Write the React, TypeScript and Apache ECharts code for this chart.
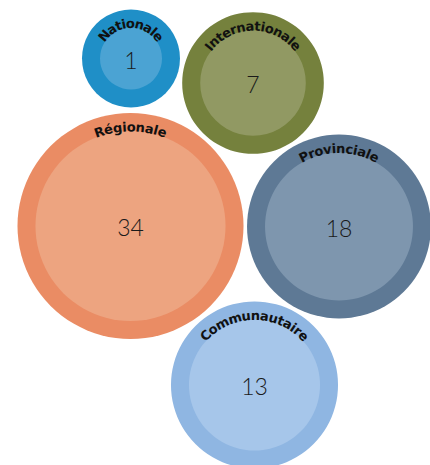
import React, { useEffect, useRef } from "react";
import * as echarts from "echarts";

// ---- data ----
const categories = ["Nationale", "Internationale", "Régionale", "Provinciale", "Communautaire"];
const values = [1, 7, 34, 18, 13];
// packed-bubble centres, in chart units (x to the right, y downward)
const bubbleX = [131, 253, 130.5, 339, 254.5];
const bubbleY = [58.5, 83, 226, 226.5, 385];

// ---- styles ----
const outerColors = ["#1f8fc7", "#75813d", "#ea8c64", "#5e7995", "#8fb6e2"];
const innerColors = ["#4ba3d3", "#919963", "#eda480", "#7e96ae", "#a6c6ea"];
const RING = 18;
const LABEL_FONT_SIZE = 13;
const LABEL_FONT = `bold ${LABEL_FONT_SIZE}px "DejaVu Sans", sans-serif`;
const LETTER_SPACING = 0.1;

// radius (chart units) grows with sqrt(value)
const radiusFor = (v: number) => 35.75 + 13.25 * Math.sqrt(v);

let measureCtx: CanvasRenderingContext2D | null = null;
function charWidth(ch: string): number {
  if (!measureCtx) {
    const c = document.createElement("canvas");
    measureCtx = c.getContext("2d");
  }
  if (!measureCtx) return LABEL_FONT_SIZE * 0.6;
  measureCtx.font = LABEL_FONT;
  return measureCtx.measureText(ch).width;
}

function arcLabel(text: string, cx: number, cy: number, R: number) {
  const chars = Array.from(text);
  const widths = chars.map(charWidth);
  const total = widths.reduce((a, b) => a + b, 0) + LETTER_SPACING * (chars.length - 1);
  const els: any[] = [];
  let s = -total / 2;
  chars.forEach((ch, k) => {
    const mid = s + widths[k] / 2;
    const phi = -Math.PI / 2 + mid / R;
    els.push({
      type: "text",
      x: cx + R * Math.cos(phi),
      y: cy + R * Math.sin(phi),
      rotation: -(phi + Math.PI / 2),
      silent: true,
      style: {
        text: ch,
        font: LABEL_FONT,
        fill: "#111111",
        align: "center",
        verticalAlign: "middle",
        textAlign: "center",
        textVerticalAlign: "middle",
      },
    });
    s += widths[k] + LETTER_SPACING;
  });
  return els;
}

export default function App() {
  const ref = useRef<HTMLDivElement>(null);
  useEffect(() => {
    document.body.style.margin = "0";
    if (!ref.current) return;
    const chart = echarts.init(ref.current, undefined, { renderer: "svg" });
    chart.setOption({
      animation: false,
      backgroundColor: "#ffffff",
      grid: { left: 0, right: 0, top: 0, bottom: 0 },
      xAxis: { type: "value", min: 0, max: 430, show: false },
      yAxis: { type: "value", min: 0, max: 465, inverse: true, show: false },
      series: [
        {
          type: "custom",
          coordinateSystem: "cartesian2d",
          silent: true,
          data: categories.map((c, i) => [bubbleX[i], bubbleY[i], values[i], i]),
          renderItem: (params: any, api: any) => {
            const i = api.value(3);
            const v = api.value(2);
            const pt = api.coord([api.value(0), api.value(1)]);
            const r = api.size([radiusFor(v), 0])[0];
            const ring = api.size([RING, 0])[0];
            const children: any[] = [
              { type: "circle", shape: { cx: pt[0], cy: pt[1], r }, style: { fill: outerColors[i] } },
              { type: "circle", shape: { cx: pt[0], cy: pt[1], r: r - ring }, style: { fill: innerColors[i] } },
              {
                type: "text",
                x: pt[0],
                y: pt[1] + 1,
                style: {
                  text: String(v),
                  font: '300 23px "Lato", "Open Sans", sans-serif',
                  fill: "#1a1a1a",
                  align: "center",
                  verticalAlign: "middle",
                  textAlign: "center",
                  textVerticalAlign: "middle",
                },
              },
              ...arcLabel(categories[i], pt[0], pt[1], r - 14),
            ];
            return { type: "group", children };
          },
        },
      ],
    });
    return () => chart.dispose();
  }, []);
  return <div ref={ref} style={{ width: 430, height: 465 }} />;
}
